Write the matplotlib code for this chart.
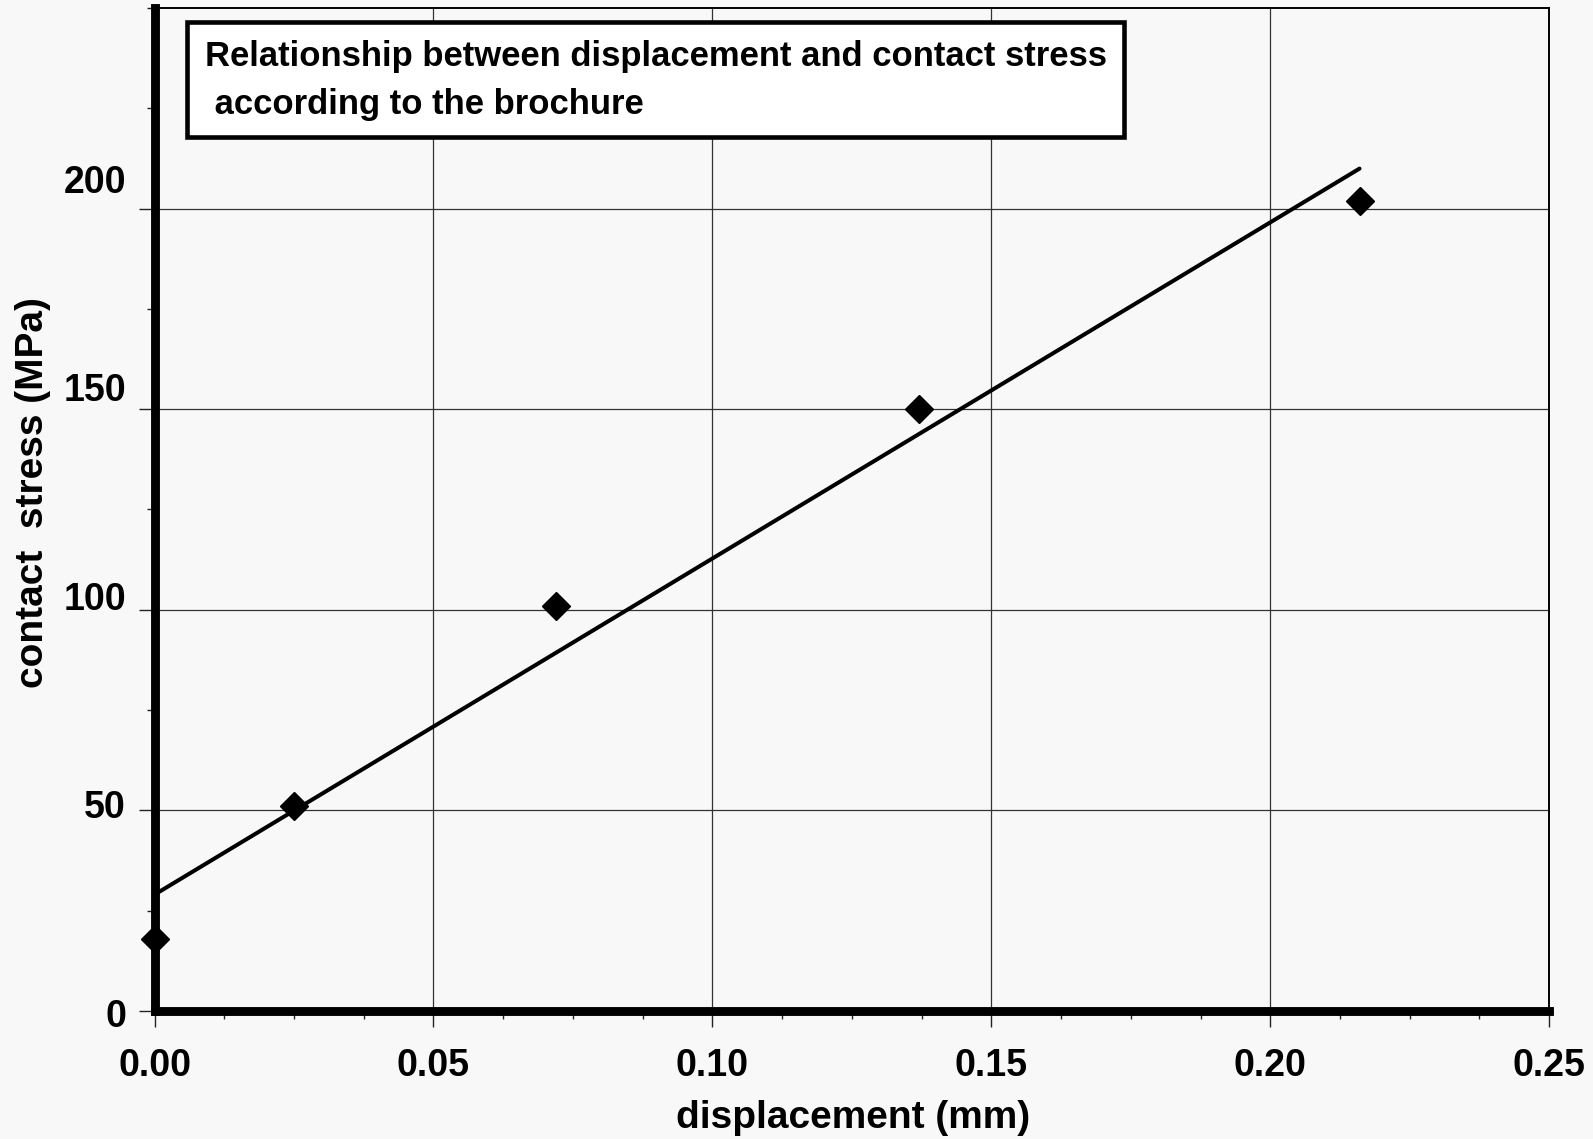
import numpy as np
import matplotlib
matplotlib.use("Agg")
import matplotlib.pyplot as plt
import matplotlib.transforms as mtransforms
from matplotlib.patches import Rectangle
from matplotlib.ticker import MultipleLocator

# data
displacement = [0.0, 0.025, 0.072, 0.137, 0.216]
stress = [18, 51, 101, 150, 202]
x_ticks = [0.00, 0.05, 0.10, 0.15, 0.20, 0.25]
x_tick_labels = ["0.00", "0.05", "0.10", "0.15", "0.20", "0.25"]
y_ticks = [0, 50, 100, 150, 200]
y_tick_labels = ["0", "50", "100", "150", "200"]
title_lines = ["Relationship between displacement and contact stress",
               " according to the brochure"]

plt.rcParams['font.family'] = ['Liberation Sans', 'DejaVu Sans']
bg = "#f8f8f8"
fig = plt.figure(figsize=(15.93, 11.39), dpi=100, facecolor=bg)
ax = fig.add_axes([0.097, 0.1124, 0.8755, 0.8806], facecolor=bg)

ax.set_xlim(0, 0.25)
ax.set_ylim(0, 250)

ax.set_xticks(x_ticks)
ax.set_xticklabels(x_tick_labels)
ax.set_yticks(y_ticks)
ax.set_yticklabels(y_tick_labels)
ax.xaxis.set_minor_locator(MultipleLocator(0.0125))
ax.yaxis.set_minor_locator(MultipleLocator(25))
ax.grid(True, which='major', color='#333333', linewidth=0.9, zorder=0)

for lab in ax.get_xticklabels() + ax.get_yticklabels():
    lab.set_fontweight('bold')
    lab.set_fontsize(27)
ax.tick_params(axis='both', which='major', direction='out', length=11.5, width=1.0,
               color='#222222')
ax.tick_params(axis='both', which='minor', direction='out', length=5.8, width=1.0,
               color='#222222')
ax.tick_params(axis='x', which='major', pad=15)
ax.tick_params(axis='y', which='major', pad=9)

# Excel-like spread of y tick labels (slightly larger spacing than gridlines)
for val, lab in zip(y_ticks, ax.get_yticklabels()):
    off = (val * 0.16 - 2) / 100.0
    lab.set_transform(lab.get_transform() +
                      mtransforms.ScaledTranslation(0, off, fig.dpi_scale_trans))

ax.spines['left'].set_linewidth(6.4)
ax.spines['bottom'].set_linewidth(6.4)
ax.spines['top'].set_linewidth(1.4)
ax.spines['right'].set_linewidth(1.4)
for s in ax.spines.values():
    s.set_color('black')
    s.set_zorder(3)
ax.spines['left'].set_capstyle('projecting')
ax.spines['bottom'].set_capstyle('projecting')

# trend line (least-squares fit)
slope, intercept = np.polyfit(displacement, stress, 1)
xs = np.array([0.0, max(displacement)])
ax.plot(xs, slope * xs + intercept, color='black', linewidth=2.9, zorder=4,
        solid_capstyle='round')

# markers
ax.plot(displacement, stress, linestyle='none', marker='D', markersize=14,
        color='black', zorder=5, clip_on=False)

ax.set_xlabel("displacement (mm)", fontsize=28, fontweight='bold')
ax.xaxis.label.set_va('center')
ax.xaxis.set_label_coords(0.5006, -0.1063)
ax.set_ylabel("contact  stress (MPa)", fontsize=28, fontweight='bold')
ax.yaxis.label.set_va('center')
ax.yaxis.set_label_coords(-0.0874, 0.5167)

# title box
box = Rectangle((0.0234, 0.871), 0.6716, 0.115, transform=ax.transAxes,
                facecolor='white', edgecolor='black', linewidth=3.3, zorder=6)
ax.add_patch(box)
ax.text(0.0365, 0.952, title_lines[0], transform=ax.transAxes, fontsize=24.9,
        fontweight='bold', va='center', ha='left', zorder=7)
ax.text(0.0365, 0.904, title_lines[1], transform=ax.transAxes, fontsize=24.9,
        fontweight='bold', va='center', ha='left', zorder=7)

fig.savefig("out.png", dpi=100, facecolor=bg)
